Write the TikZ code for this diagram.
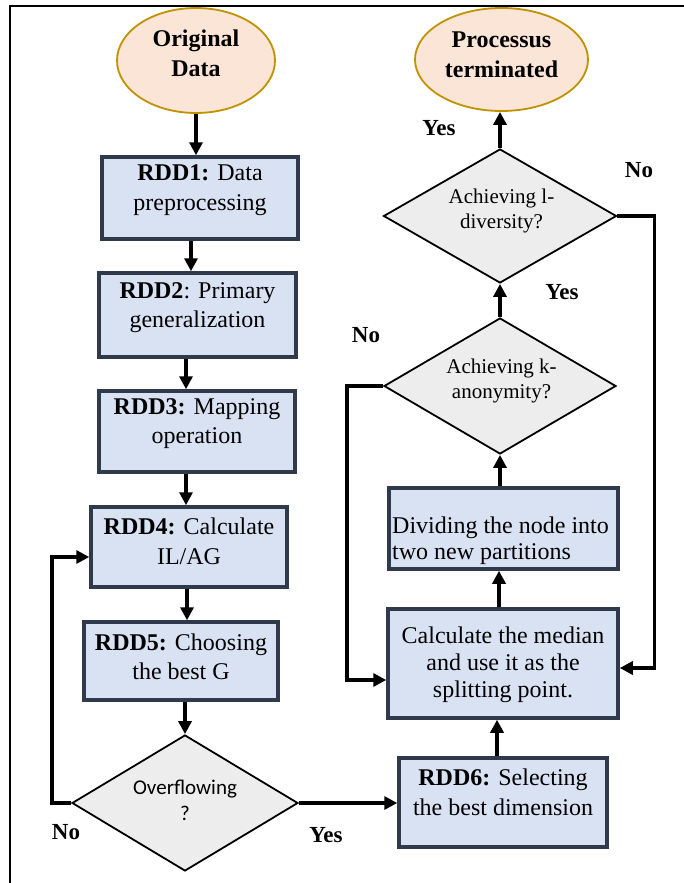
\documentclass[tikz,border=0pt]{standalone}
\usepackage{fontspec}
\setmainfont{Liberation Serif}
\newfontfamily\calibrifont{Carlito}
\usetikzlibrary{shapes.geometric,arrows.meta}
\definecolor{boxfill}{HTML}{D9E2F3}
\definecolor{boxline}{HTML}{2F3A4A}
\definecolor{ellfill}{HTML}{FBE5D6}
\definecolor{ellline}{HTML}{C09200}
\definecolor{diafill}{HTML}{EDEDED}
\tikzset{
  box/.style={draw=boxline, line width=3.5pt, fill=boxfill, inner sep=0pt},
  dia/.style={diamond, draw=black, line width=1.8pt, fill=diafill, inner sep=0pt},
  term/.style={ellipse, draw=ellline, line width=1.8pt, fill=ellfill, inner sep=0pt},
  txt/.style={align=center, font=\fontsize{24}{29.5}\selectfont, inner sep=0pt},
  dtxt/.style={align=center, font=\fontsize{21}{25}\selectfont, inner sep=0pt},
  etxt/.style={align=center, font=\fontsize{24}{30}\selectfont\bfseries, inner sep=0pt},
  arr/.style={line width=3.5pt, -{Triangle[length=13pt,width=13pt]}},
  lbl/.style={font=\fontsize{23}{26}\selectfont\bfseries, inner sep=0pt}
}
\begin{document}
\begin{tikzpicture}[x=1pt,y=-1pt]
\useasboundingbox (0,0) rectangle (683,883);
\draw[line width=2pt] (10,895) -- (10,6) -- (690,6);

% terminals
\node[term, minimum width=158pt, minimum height=105pt] (orig) at (196,60.5) {};
\node[etxt] (origt) at (196,53) {Original\\Data};
\node[term, minimum width=173pt, minimum height=103pt] (term) at (501.5,59.5) {};
\node[etxt] (termt) at (501.5,55) {Processus\\terminated};

% left column boxes
\node[box, minimum width=196pt, minimum height=82pt] (rdd1) at (200,198) {};
\node[txt] (rdd1t) at (200,190) {\textbf{RDD1:} Data\\preprocessing};
\node[box, minimum width=197pt, minimum height=84pt] (rdd2) at (197.5,315) {};
\node[txt] (rdd2t) at (197.5,307.5) {\textbf{RDD2}: Primary\\generalization};
\node[box, minimum width=196pt, minimum height=81pt] (rdd3) at (197,431.5) {};
\node[txt] (rdd3t) at (197,423.5) {\textbf{RDD3:} Mapping\\operation};
\node[box, minimum width=196pt, minimum height=80pt] (rdd4) at (189,547) {};
\node[txt] (rdd4t) at (189,541.5) {\textbf{RDD4:} Calculate\\IL/AG};
\node[box, minimum width=194pt, minimum height=78pt] (rdd5) at (181,661) {};
\node[txt] (rdd5t) at (181,657) {\textbf{RDD5:} Choosing\\the best G};

% overflowing decision
\node[dia, minimum width=226pt, minimum height=136pt] (ovdia) at (185,803) {};
\node[dtxt, font=\fontsize{21}{26}\calibrifont] (ovdiat) at (185,800) {Overflowing\\?};

% right column
\node[box, minimum width=208pt, minimum height=89pt] (rdd6) at (503,802.5) {};
\node[txt] (rdd6t) at (503,792.5) {\textbf{RDD6:} Selecting\\the best dimension};
\node[box, minimum width=230pt, minimum height=109pt] (median) at (503,663.5) {};
\node[txt, font=\fontsize{24}{27}\selectfont] (mediant) at (503,665) {Calculate the median\\and use it as the\\splitting point.};
\node[box, minimum width=229pt, minimum height=81pt] (divide) at (503.5,528.5) {};
\node[txt, align=left, anchor=west, font=\fontsize{24}{26}\selectfont] (dividet) at (392,540.5) {Dividing the node into\\two new partitions};
\node[dia, minimum width=232pt, minimum height=136pt] (kdia) at (500,386) {};
\node[dtxt] (kdiat) at (501.5,380.5) {Achieving k-\\anonymity?};
\node[dia, minimum width=233pt, minimum height=134pt] (ldia) at (500,216) {};
\node[dtxt] (ldiat) at (501.5,210.5) {Achieving l-\\diversity?};

% labels
\node[lbl] (yes1) at (439,128) {Yes};
\node[lbl] (no1) at (639,170) {No};
\node[lbl] (yes2) at (562,292) {Yes};
\node[lbl] (no2) at (366,335) {No};
\node[lbl] (no3) at (66,832) {No};
\node[lbl] (yes3) at (326,835) {Yes};

% left column arrows
\draw[arr] (orig.south) -- (orig.south |- rdd1.north);
\draw[arr] ([xshift=-9pt]rdd1.south) -- ([xshift=-9pt]rdd1.south |- rdd2.north);
\draw[arr] ([xshift=-11.5pt]rdd2.south) -- ([xshift=-11.5pt]rdd2.south |- rdd3.north);
\draw[arr] ([xshift=-11pt]rdd3.south) -- ([xshift=-11pt]rdd3.south |- rdd4.north);
\draw[arr] ([xshift=-2pt]rdd4.south) -- ([xshift=-2pt]rdd4.south |- rdd5.north);
\draw[arr] (rdd5.south -| ovdia.north) -- (ovdia.north);

% decision branches
\draw[arr] (ovdia.west) -- ++(-19,0) |- ([yshift=-10pt]rdd4.west);
\draw[arr] (ovdia.east) -- (ovdia.east -| rdd6.west);

% right column arrows
\draw[arr] ([xshift=-6pt]rdd6.north) -- ([xshift=-6pt]rdd6.north |- median.south);
\draw[arr] ([xshift=-4pt]median.north) -- ([xshift=-4pt]median.north |- divide.south);
\draw[arr] (divide.north -| kdia.south) -- (kdia.south);
\draw[arr] (kdia.north) -- (ldia.south);
\draw[arr] (ldia.north) -- (ldia.north |- term.south);
\draw[arr] (kdia.west) -- ++(-36,0) |- ([yshift=-16.5pt]median.west);
\draw[arr] (ldia.east) -- ++(37,0) |- ([yshift=-4.5pt]median.east);
\end{tikzpicture}
\end{document}
